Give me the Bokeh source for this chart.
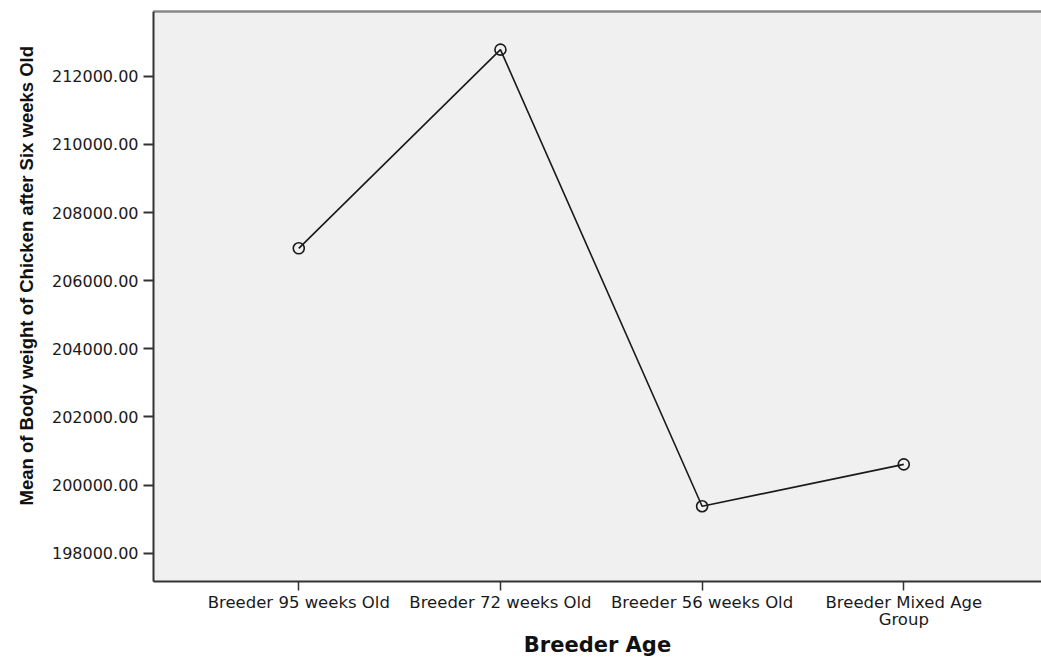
from bokeh.plotting import figure
from bokeh.models import (ColumnDataSource, FixedTicker, NumeralTickFormatter,
                          LinearAxis, Range1d, Title)
from bokeh.embed import file_html
from bokeh.resources import INLINE

# ---- data ----
categories = ["Breeder 95 weeks Old", "Breeder 72 weeks Old",
              "Breeder 56 weeks Old", "Breeder Mixed Age\nGroup"]
mean_weight = [206950.0, 212780.0, 199380.0, 200610.0]
y_ticks = [198000, 200000, 202000, 204000, 206000, 208000, 210000, 212000]
y_title = "Mean of Body weight of Chicken after Six weeks Old"
x_title = "Breeder Age"

x_pos = list(range(1, len(categories) + 1))
src = ColumnDataSource(dict(x=x_pos, y=mean_weight, cat=categories))

p = figure(width=1041, height=659, output_backend="svg", toolbar_location=None,
           x_range=Range1d(0.2796, 4.683), y_range=Range1d(197172, 213900),
           min_border_left=153, min_border_right=0, min_border_top=11,
           min_border_bottom=76)

p.background_fill_color = "#f0f0f0"
p.border_fill_color = "white"
p.outline_line_color = None
p.grid.visible = False

p.line("x", "y", source=src, line_color="#1a1a1a", line_width=1.6)
p.scatter("x", "y", source=src, marker="circle", size=11,
          fill_color=None, line_color="#1a1a1a", line_width=1.6)

# x axis
xa = p.xaxis[0]
xa.ticker = FixedTicker(ticks=x_pos)
xa.major_label_overrides = {x: c for x, c in zip(x_pos, categories)}
xa.minor_tick_line_color = None
xa.major_tick_in = 0
xa.major_tick_out = 9
xa.major_tick_line_color = "#333333"
xa.major_tick_line_width = 1.5
xa.axis_line_color = "#333333"
xa.axis_line_width = 2
xa.major_label_text_font = "DejaVu Sans"
xa.major_label_text_font_size = "16.5px"
xa.major_label_text_color = "#1a1a1a"
xa.major_label_text_line_height = 0.9
xa.major_label_standoff = 2
xa.axis_label = x_title
xa.axis_label_text_font = "DejaVu Sans"
xa.axis_label_text_font_style = "bold"
xa.axis_label_text_font_size = "21px"
xa.axis_label_text_color = "#111111"
xa.axis_label_standoff = 1

# y axis
ya = p.yaxis[0]
ya.ticker = FixedTicker(ticks=y_ticks)
ya.formatter = NumeralTickFormatter(format="0.00")
ya.minor_tick_line_color = None
ya.major_tick_in = 0
ya.major_tick_out = 10
ya.major_tick_line_color = "#333333"
ya.major_tick_line_width = 2
ya.axis_line_color = "#333333"
ya.axis_line_width = 2
ya.major_label_text_font = "DejaVu Sans"
ya.major_label_text_font_size = "16px"
ya.major_label_text_color = "#1a1a1a"
ya.major_label_standoff = 5

# y-axis title (a left title, so that it can sit a little above centre)
yt = Title(text=y_title, align="left", offset=76, standoff=24,
           text_font="Liberation Sans", text_font_style="bold",
           text_font_size="18.5px", text_color="#111111")
p.add_layout(yt, "left")

# top border line
top = LinearAxis(ticker=FixedTicker(ticks=[]), major_tick_in=0, major_tick_out=0,
                 minor_tick_line_color=None, major_label_text_font_size="0px",
                 major_label_standoff=0, axis_line_color="#888888",
                 axis_line_width=2.5)
p.add_layout(top, "above")

open("out.html", "w").write(file_html(p, INLINE))
